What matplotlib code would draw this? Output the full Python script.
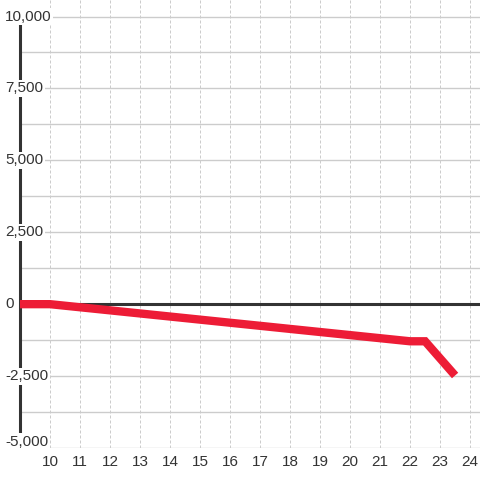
import numpy as np
import matplotlib
matplotlib.use('Agg')
import matplotlib.pyplot as plt

plt.rcParams['font.family'] = ['Liberation Sans', 'DejaVu Sans']

# 데이터
x_vals = [9, 10, 22, 22.5, 23.5]
y_vals = [0, 0, -1290, -1290, -2480]
x_ticks = list(range(10, 25))
y_ticks = [-5000, -2500, 0, 2500, 5000, 7500, 10000]
y_labels = ['-5,000', '-2,500', '0', '2,500', '5,000', '7,500', '10,000']

text_color = '#333333'
grid_color = '#cccccc'

fig = plt.figure(figsize=(4.8, 4.8), dpi=100)
ax = fig.add_axes([20 / 480, 32 / 480, 460 / 480, 448 / 480])
ax.set_xlim(9, 24.33)
ax.set_ylim(-5000, 10574)

for s in ax.spines.values():
    s.set_visible(False)

# 가로 격자선 (1250 간격)
ax.set_yticks(np.arange(-5000, 10001, 1250))
ax.yaxis.grid(True, color=grid_color, linewidth=1.0)
ax.tick_params(axis='y', length=0, labelleft=False)

# 세로 점선 격자
ax.set_xticks(x_ticks)
ax.set_xticklabels([str(v) for v in x_ticks])
ax.xaxis.grid(True, color=grid_color, linewidth=0.72, linestyle=(0, (3, 2)))
ax.tick_params(axis='x', length=0, pad=5, labelsize=11, labelcolor=text_color)
ax.set_axisbelow(True)

# 0 기준선
ax.axhline(0, color='#333333', linewidth=2.2, zorder=2)

# 왼쪽 축선
ax.plot([9, 9], [-5000, 10000], color='#333333', linewidth=2.2,
        solid_capstyle='butt', clip_on=False, zorder=3)

# y 눈금 라벨 (흰 배경)
for v, lab in zip(y_ticks, y_labels):
    dy = 6 if v == -5000 else 0
    ax.annotate(lab, xy=(9, v), xytext=(-15, dy), textcoords='offset pixels',
                ha='left', va='center', fontsize=11, color=text_color,
                annotation_clip=False, zorder=5,
                bbox=dict(boxstyle='square,pad=0.1', fc='white', ec='none'))

# 데이터 선
ax.plot(x_vals, y_vals, color='#ED1C36', linewidth=6, solid_capstyle='butt',
        solid_joinstyle='miter', clip_on=False, zorder=4)

fig.savefig('out.png', dpi=100)
